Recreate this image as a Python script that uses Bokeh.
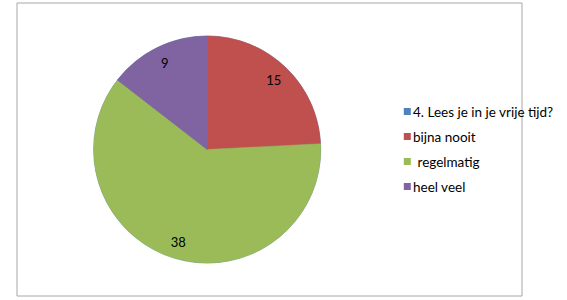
import math
from bokeh.plotting import figure
from bokeh.models import Range1d, ColumnDataSource
from bokeh.core.properties import value
from bokeh.embed import file_html
from bokeh.resources import INLINE

categories = ["4. Lees je in je vrije tijd?", "bijna nooit", " regelmatig", "heel veel"]
values = [0, 15, 38, 9]
colors = ["#4F81BD", "#C0504D", "#9BBB59", "#8064A2"]

W, H = 567, 300
p = figure(width=W, height=H, output_backend="svg", toolbar_location=None,
           x_range=Range1d(0, W), y_range=Range1d(0, H),
           min_border=0, outline_line_color=None)
p.axis.visible = False
p.grid.visible = False
p.background_fill_color = "white"
p.border_fill_color = "white"

# chart frame
p.quad(left=16.5, right=521.5, bottom=300 - 295.5, top=300 - 2.5,
       fill_color=None, line_color="#A6A6A6", line_width=1)

cx, cy, R = 206.7, 300 - 149, 113.5
total = sum(values)
starts, ends, mids = [], [], []
acc = 0.0
for v in values:
    a0 = acc / total
    acc += v
    a1 = acc / total
    starts.append(math.pi / 2 - a0 * 2 * math.pi)
    ends.append(math.pi / 2 - a1 * 2 * math.pi)
    mids.append(math.pi / 2 - (a0 + a1) / 2 * 2 * math.pi)

src = ColumnDataSource(dict(start=starts, end=ends, color=colors))
p.wedge(x=cx, y=cy, radius=R, start_angle="start", end_angle="end",
        direction="clock", fill_color="color", line_color="color", line_width=0.5,
        source=src)

lx, ly, lt = [], [], []
for v, m in zip(values, mids):
    if v == 0:
        continue
    lx.append(cx + 0.85 * R * math.cos(m))
    ly.append(cy + 0.85 * R * math.sin(m))
    lt.append(str(v))
p.text(x=lx, y=ly, text=lt, text_align="center", text_baseline="middle",
       text_font=value("Lato"), text_font_size="13px", text_color="black")

# legend
n = len(categories)
gy = [300 - (111 + i * 25) for i in range(n)]
p.rect(x=[406.8] * n, y=gy, width=7, height=7, fill_color=colors, line_color=None)
tx = [412.5 + (4.5 if c.startswith(" ") else 0) for c in categories]
p.text(x=tx, y=gy, text=[c.strip() for c in categories], text_align="left",
       text_baseline="middle", text_font=value("Lato"), text_font_size="13.5px",
       text_color="black")

open("out.html", "w").write(file_html(p, INLINE))
